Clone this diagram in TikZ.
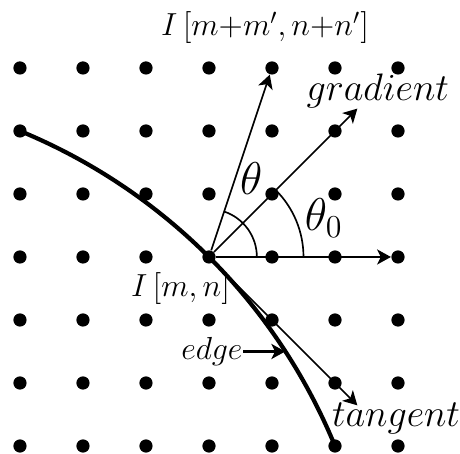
\documentclass[tikz,border=0pt]{standalone}
\usepackage{amsmath,amssymb}
\usepackage{tikz}
\usetikzlibrary{arrows.meta,calc}
\tikzset{
  pixel/.style  = {circle, fill=black, inner sep=0pt, minimum size=2.1mm},
  vec/.style    = {-{Stealth[length=2.2mm,width=2.4mm,inset=0.6mm]}, line width=0.75pt},
  edgeline/.style = {line width=1.9pt},
  anglearc/.style = {line width=0.75pt},
  mlabel/.style = {inner sep=0pt, font=\Large},
  wlabel/.style = {inner sep=0pt, font=\fontsize{16}{19}\selectfont},
  alabel/.style = {inner sep=0pt, font=\huge},
}

\begin{document}
\begin{tikzpicture}
  \useasboundingbox (-0.317,-0.127) rectangle (6.984,7.079);

  %% ---------------- pixel grid ----------------
  \foreach \i in {0,...,6} { \foreach \j in {0,...,6} {
    \node[pixel] (d\i\j) at (\i,\j) {}; } }

  %% ---------------- the edge ----------------
  \draw[edgeline] (d05.center) arc[start angle=67.62, end angle=22.38, radius=9.192];

  %% ---------------- vectors from I[m,n] ----------------
  \coordinate (gradtip) at ($(d33)+(45:3.33)$);
  \coordinate (tangtip) at ($(d33)+(-45:3.33)$);
  \draw[vec] (d33) -- (d46);
  \draw[vec] (d33) -- (gradtip);
  \draw[vec] (d33) -- (d63);
  \draw[vec] (d33) -- (tangtip);

  %% ---------------- angles ----------------
  \draw[anglearc] ([shift={(0:0.76)}]d33.center) arc[start angle=0, end angle=71.57, radius=0.76];
  \draw[anglearc] ([shift={(0:1.5)}]d33.center) arc[start angle=0, end angle=45, radius=1.5];

  %% ---------------- labels ----------------
  \node[mlabel] (nbr) at (3.89,6.64) {$I\,[m{+}m',n{+}n']$};
  \node[wlabel] (grad) at (5.68,5.63) {$gradient$};
  \node[alabel] (th) at (3.67,4.25) {$\theta$};
  \node[alabel] (thzero) at (4.82,3.62) {$\theta_0$};
  \node[mlabel, anchor=east] (imn) at (3.34,2.50) {$I\,[m,n]$};
  \node[mlabel, anchor=east] (edgetxt) at (3.54,1.50) {$edge$};
  \coordinate (edgept) at (4.21,1.50);
  \draw[vec, line width=1.1pt] (edgetxt.east) -- (edgept);
  \node[wlabel] (tang) at (5.97,0.43) {$tangent$};
\end{tikzpicture}
\end{document}
